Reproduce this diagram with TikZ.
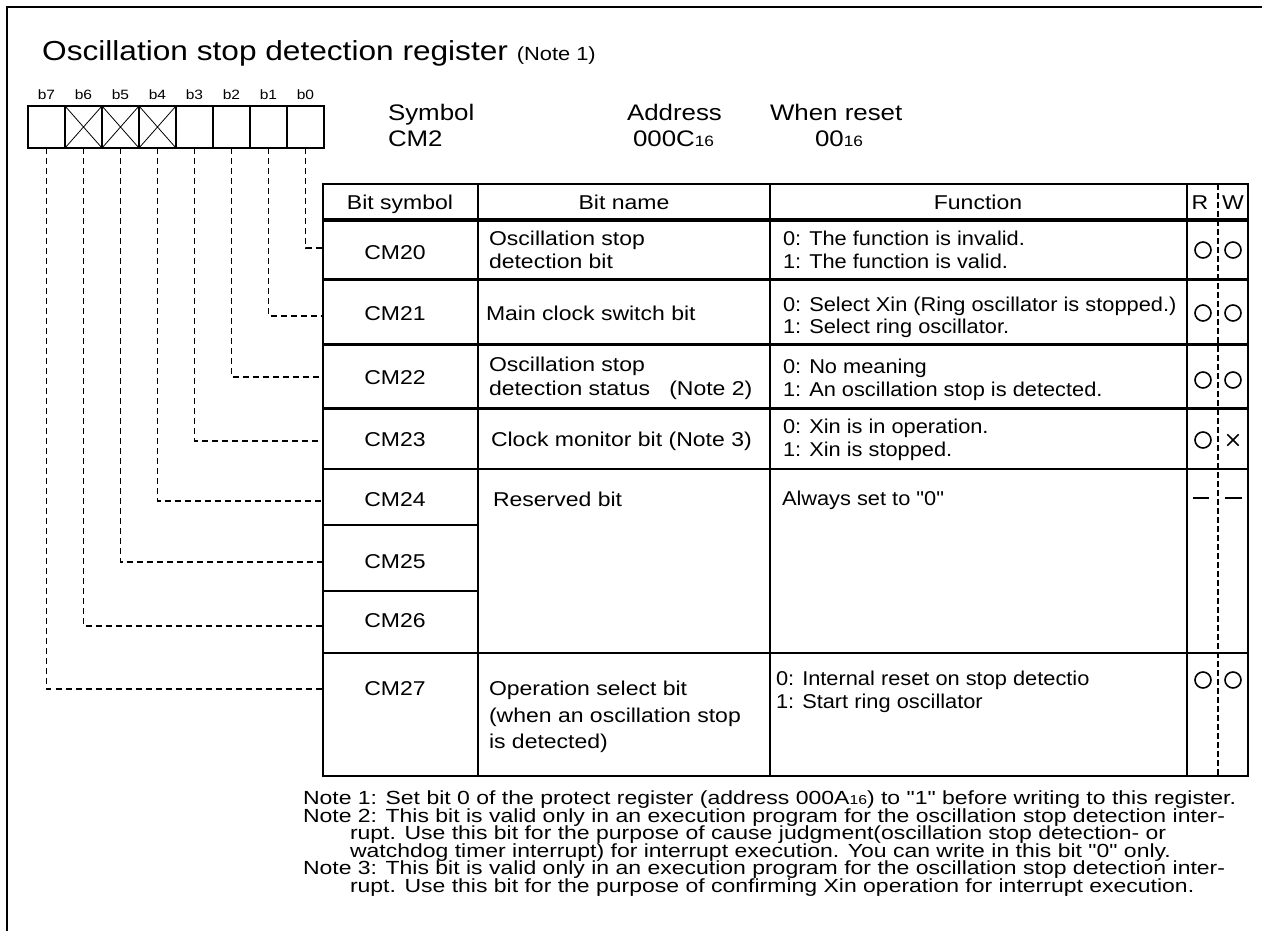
\documentclass[tikz,border=0pt]{standalone}
\usepackage{fontspec}
\setmainfont{Liberation Sans}
\newfontfamily\mf[FakeStretch=1.15]{Liberation Sans}
\newfontfamily\ff[FakeStretch=1.09]{Liberation Sans}
\newfontfamily\nf[FakeStretch=1.21]{Liberation Sans}
\newcommand\fsz[1]{\fontsize{#1}{#1}\selectfont}
\tikzset{
  lbl/.style={anchor=base west, inner sep=0pt, outer sep=0pt, font=\mf\fsz{20}},
  flbl/.style={anchor=base west, inner sep=0pt, outer sep=0pt, font=\ff\fsz{20}},
  clbl/.style={anchor=base, inner sep=0pt, outer sep=0pt, font=\mf\fsz{20}},
  hdr/.style={anchor=base west, inner sep=0pt, outer sep=0pt, font=\mf\fsz{22.5}},
  note/.style={anchor=base west, inner sep=0pt, outer sep=0pt, font=\nf\fsz{19}},
  bitlbl/.style={anchor=base, inner sep=0pt, outer sep=0pt, font=\mf\fsz{13.5}},
  bitcell/.style={draw, line width=1.8pt, minimum width=37pt, minimum height=42pt, inner sep=0pt, outer sep=0pt},
  conn/.style={line width=1.5pt, dash pattern=on 6pt off 4pt},
  rwc/.style={circle, draw, line width=1.6pt, minimum size=16pt, inner sep=0pt},
  xmark/.style={minimum size=11pt, inner sep=0pt},
  thickrule/.style={line width=3pt},
  thinrule/.style={line width=2pt},
}
\begin{document}
\begin{tikzpicture}[x=1pt,y=-1pt]
\useasboundingbox (0,0) rectangle (1262,931);
% frame
\draw[line width=2.5pt] (7,931) -- (7,7) -- (1262,7);

% title
\node[anchor=base west, inner sep=0pt, font=\mf\fsz{27.5}] (title) at (42,61)
  {Oscillation stop detection register {\fsz{19}(Note 1)}};

% bit cells
\foreach \i/\x in {7/46.5,6/83.5,5/120.5,4/157.5,3/194.5,2/231.5,1/268.5,0/305.5}{
  \node[bitlbl] (l\i) at (\x,100) {b\i};
  \node[bitcell] (c\i) at (\x,127) {};
}
\foreach \i in {6,5,4}{
  \draw[line width=0.8pt] (c\i.north west) -- (c\i.south east) (c\i.south west) -- (c\i.north east);
}

% symbol / address / reset
\node[hdr] (sym) at (388,121) {Symbol};
\node[hdr] (symv) at (388,147) {CM2};
\node[hdr] (adr) at (627,121) {Address};
\node[hdr] (adrv) at (633,147) {000C{\fsz{15}16}};
\node[hdr] (rst) at (770,121) {When reset};
\node[hdr] (rstv) at (815,147) {00{\fsz{15}16}};

% table
\draw[line width=2pt] (323,184) rectangle (1248,776);
\foreach \yy in {220,279,344,408}{ \draw[thickrule] (322,\yy) -- (1248,\yy); }
\foreach \yy in {469,653}{ \draw[thinrule] (323,\yy) -- (1248,\yy); }
\foreach \yy in {525,591}{ \draw[thinrule] (323,\yy) -- (478,\yy); }
\foreach \xx in {478,770,1187}{ \draw[thinrule] (\xx,184) -- (\xx,776); }
\draw[line width=2.5pt, dash pattern=on 6pt off 3pt] (1218,184) -- (1218,776);

% header
\node[clbl] (h1) at (400,209) {Bit symbol};
\node[clbl] (h2) at (624,209) {Bit name};
\node[clbl] (h3) at (978,209) {Function};
\node[clbl] (hr) at (1200,209) {R};
\node[clbl] (hw) at (1233,209) {W};

% row symbols
\node[clbl] (s0) at (395,259) {CM20};
\node[clbl] (s1) at (395,320) {CM21};
\node[clbl] (s2) at (395,384) {CM22};
\node[clbl] (s3) at (395,446) {CM23};
\node[clbl] (s4) at (395,506) {CM24};
\node[clbl] (s5) at (395,568) {CM25};
\node[clbl] (s6) at (395,627) {CM26};
\node[clbl] (s7) at (395,695) {CM27};

% bit names
\node[lbl] (n0a) at (489,245) {Oscillation stop};
\node[lbl] (n0b) at (489,268) {detection bit};
\node[lbl] (n1) at (486,320) {Main clock switch bit};
\node[lbl] (n2a) at (489,371) {Oscillation stop};
\node[lbl] (n2b) at (489,395) {detection status \ \ (Note 2)};
\node[lbl] (n3) at (491,446) {Clock monitor bit (Note 3)};
\node[lbl] (n4) at (493,506) {Reserved bit};
\node[lbl] (n7a) at (489,695) {Operation select bit};
\node[lbl] (n7b) at (489,722) {(when an oscillation stop};
\node[lbl] (n7c) at (489,748) {is detected)};

% functions
\node[flbl] (f0a) at (783,245) {0: The function is invalid.};
\node[flbl] (f0b) at (783,268) {1: The function is valid.};
\node[flbl] (f1a) at (783,311) {0: Select Xin (Ring oscillator is stopped.)};
\node[flbl] (f1b) at (783,333) {1: Select ring oscillator.};
\node[flbl] (f2a) at (783,373) {0: No meaning};
\node[flbl] (f2b) at (783,396) {1: An oscillation stop is detected.};
\node[flbl] (f3a) at (783,433) {0: Xin is in operation.};
\node[flbl] (f3b) at (783,456) {1: Xin is stopped.};
\node[flbl] (f4) at (782,505) {Always set to "0"};
\node[flbl] (f7a) at (776,685) {0: Internal reset on stop detectio};
\node[flbl] (f7b) at (776,708) {1: Start ring oscillator};

% R/W marks
\node[rwc] (r0) at (1203,250) {};
\node[rwc] (w0) at (1233,250) {};
\node[rwc] (r1) at (1203,313) {};
\node[rwc] (w1) at (1233,313) {};
\node[rwc] (r2) at (1203,380) {};
\node[rwc] (w2) at (1233,380) {};
\node[rwc] (r3) at (1203,440) {};
\node[xmark] (w3) at (1233,440) {};
\draw[line width=1.5pt] (w3.north west) -- (w3.south east) (w3.south west) -- (w3.north east);
\draw[line width=2pt] (1193,498) -- (1209,498);
\draw[line width=2pt] (1225,498) -- (1242,498);
\node[rwc] (r7) at (1203,680) {};
\node[rwc] (w7) at (1233,680) {};

% connectors
\coordinate (e0) at (323,248);
\coordinate (e1) at (323,316);
\coordinate (e2) at (323,377);
\coordinate (e3) at (323,441);
\coordinate (e4) at (323,501);
\coordinate (e5) at (323,562);
\coordinate (e6) at (323,626);
\coordinate (e7) at (323,689);
\foreach \i in {0,...,7}{ \draw[conn] (c\i.south) |- (e\i); }

% notes
\node[note] (nt1) at (303,804) {Note 1: Set bit 0 of the protect register (address 000A{\fsz{13}16}) to "1" before writing to this register.};
\node[note] (nt2) at (303,822) {Note 2: This bit is valid only in an execution program for the oscillation stop detection inter-};
\node[note] (nt2b) at (350,839) {rupt. Use this bit for the purpose of cause judgment(oscillation stop detection- or};
\node[note] (nt2c) at (350,857) {watchdog timer interrupt) for interrupt execution. You can write in this bit "0" only.};
\node[note] (nt3) at (303,874) {Note 3: This bit is valid only in an execution program for the oscillation stop detection inter-};
\node[note] (nt3b) at (350,892) {rupt. Use this bit for the purpose of confirming Xin operation for interrupt execution.};
\end{tikzpicture}
\end{document}
